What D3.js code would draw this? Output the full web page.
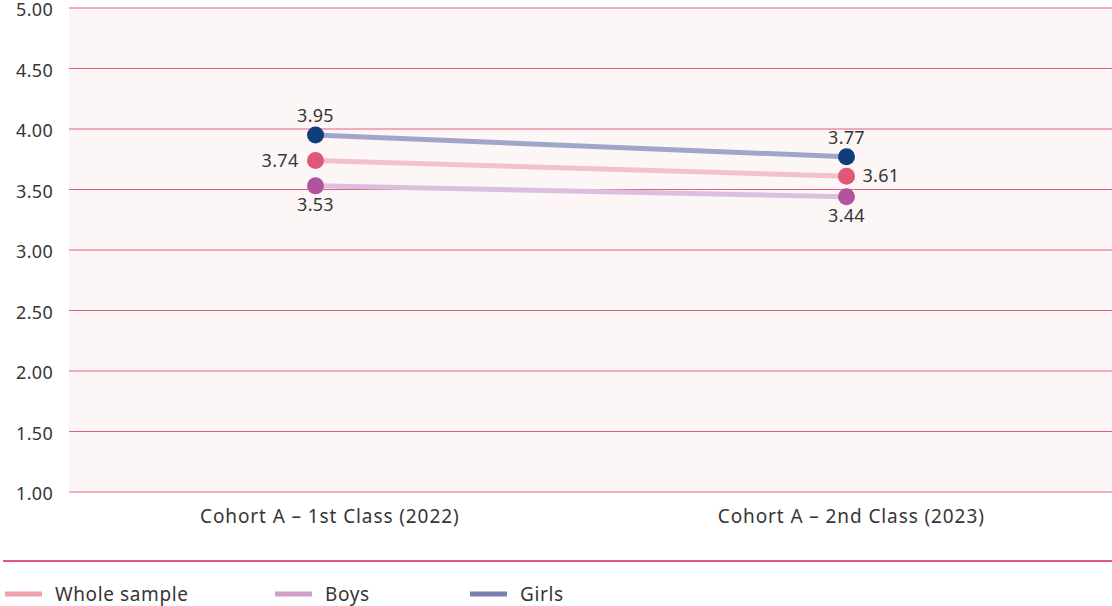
<!DOCTYPE html>
<html>
<head>
<meta charset="utf-8">
<script src="https://cdn.jsdelivr.net/npm/d3@7"></script>
<style>
  html, body { margin: 0; padding: 0; background: #ffffff; }
  svg { display: block; font-family: "Noto Sans", "DejaVu Sans", sans-serif; }
</style>
</head>
<body>
<svg id="chart" width="1112" height="606"></svg>
<script>
// Mean scores by cohort wave
const categories = ["Cohort A – 1st Class (2022)", "Cohort A – 2nd Class (2023)"];
const seriesNames = ["Whole sample", "Boys", "Girls"];
const wholeSample = [3.74, 3.61];
const boys = [3.53, 3.44];
const girls = [3.95, 3.77];
const yTicks = [1.00, 1.50, 2.00, 2.50, 3.00, 3.50, 4.00, 4.50, 5.00];

const styles = {
  "Whole sample": { line: "#f2c1c9", dot: "#e15778", legend: "#f0a2ae", labels: ["left", "right"] },
  "Boys":         { line: "#dcbfdf", dot: "#b3539f", legend: "#d29ecc", labels: ["below", "below"] },
  "Girls":        { line: "#9fa6c9", dot: "#0e3f7a", legend: "#7781ad", labels: ["above", "above"] }
};
const seriesValues = { "Whole sample": wholeSample, "Boys": boys, "Girls": girls };

const svg = d3.select("#chart");
const plot = { left: 69, right: 1112, top: 8, bottom: 492 };
const textColor = "#363636";

const y = d3.scaleLinear().domain([1, 5]).range([plot.bottom, plot.top]);
const xBand = d3.scaleBand().domain(categories).range([plot.left, plot.right]);
const xMark = d3.scalePoint().domain(categories).range([50, plot.right]).padding(0.5);

// Plot background
svg.append("rect")
  .attr("x", plot.left).attr("y", plot.top)
  .attr("width", plot.right - plot.left).attr("height", plot.bottom - plot.top)
  .attr("fill", "#fdf6f6");

// Horizontal grid lines
svg.append("g").selectAll("line").data(yTicks).join("line")
  .attr("x1", plot.left).attr("x2", plot.right)
  .attr("y1", d => y(d)).attr("y2", d => y(d))
  .attr("stroke", "#e2607c").attr("stroke-width", 1)
  .attr("shape-rendering", "geometricPrecision");

// Y axis labels
const yAxis = d3.axisLeft(y).tickValues(yTicks).tickFormat(d3.format(".2f")).tickSize(0).tickPadding(16);
const gy = svg.append("g").attr("transform", `translate(${plot.left},0)`).call(yAxis)
  .attr("font-family", null).attr("font-size", null);
gy.select(".domain").remove();
gy.selectAll("text").attr("font-size", 18).attr("fill", textColor)
  .attr("dy", "0.42em").attr("letter-spacing", 0.3);

// X axis labels
const xAxis = d3.axisBottom(xBand).tickSize(0).tickPadding(18);
const gx = svg.append("g").attr("transform", `translate(0,${plot.bottom})`).call(xAxis)
  .attr("font-family", null).attr("font-size", null);
gx.select(".domain").remove();
gx.selectAll("text").attr("font-size", 19).attr("fill", textColor).attr("letter-spacing", 0.9);

// Lines
const line = d3.line().x((d, i) => xMark(categories[i])).y(d => y(d));
seriesNames.forEach(name => {
  svg.append("path")
    .datum(seriesValues[name])
    .attr("d", line)
    .attr("fill", "none")
    .attr("stroke", styles[name].line)
    .attr("stroke-width", 5)
    .attr("stroke-linecap", "round");
});

// Dots and value labels
seriesNames.forEach(name => {
  const vals = seriesValues[name];
  const g = svg.append("g");
  g.selectAll("circle").data(vals).join("circle")
    .attr("cx", (d, i) => xMark(categories[i]))
    .attr("cy", d => y(d))
    .attr("r", 8.5)
    .attr("fill", styles[name].dot);
  g.selectAll("text").data(vals).join("text")
    .attr("x", (d, i) => {
      const pos = styles[name].labels[i];
      const cx = xMark(categories[i]);
      return pos === "left" ? cx - 17 : pos === "right" ? cx + 16 : cx;
    })
    .attr("y", (d, i) => {
      const pos = styles[name].labels[i];
      const cy = y(d);
      return pos === "above" ? cy - 19 : pos === "below" ? cy + 19 : cy;
    })
    .attr("dy", "0.35em")
    .attr("text-anchor", (d, i) => {
      const pos = styles[name].labels[i];
      return pos === "left" ? "end" : pos === "right" ? "start" : "middle";
    })
    .attr("font-size", 18)
    .attr("letter-spacing", 0.3)
    .attr("fill", textColor)
    .text(d => d.toFixed(2));
});

// Separator above legend
svg.append("line")
  .attr("x1", 3).attr("x2", 1112).attr("y1", 561).attr("y2", 561)
  .attr("stroke", "#e15778").attr("stroke-width", 2);

// Legend
const legendX = d3.scaleOrdinal().domain(seriesNames).range([5, 275, 470]);
const legend = svg.append("g").attr("transform", "translate(0,594)");
const items = legend.selectAll("g").data(seriesNames).join("g")
  .attr("transform", d => `translate(${legendX(d)},0)`);
items.append("line")
  .attr("x1", 0).attr("x2", 37).attr("y1", 0).attr("y2", 0)
  .attr("stroke", d => styles[d].legend).attr("stroke-width", 5);
items.append("text")
  .attr("x", 50).attr("dy", "0.35em")
  .attr("font-size", 19).attr("letter-spacing", 0.6).attr("fill", textColor)
  .text(d => d);
</script>
</body>
</html>
